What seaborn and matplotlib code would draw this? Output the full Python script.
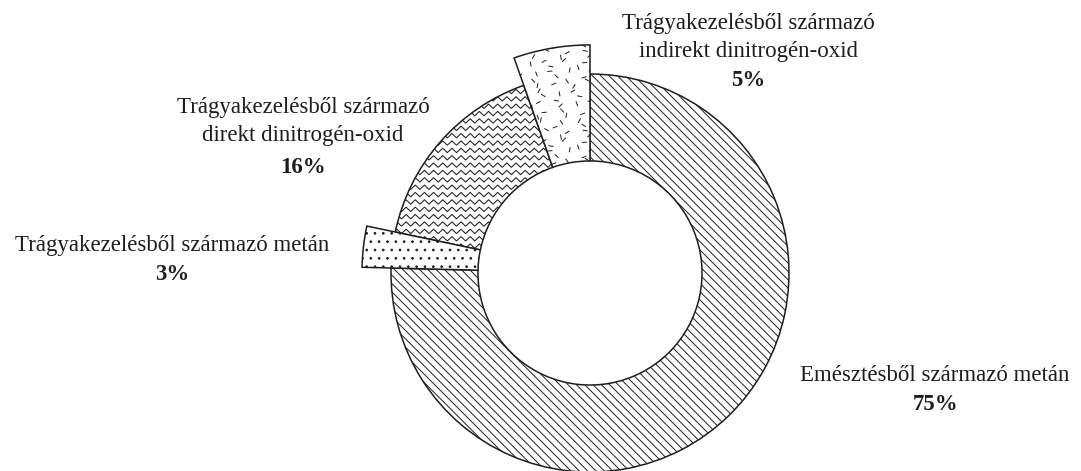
import numpy as np
import matplotlib
matplotlib.use('Agg')
import matplotlib.pyplot as plt
from matplotlib.collections import LineCollection
import seaborn as sns

# shares (percent)
labels = ['Trágyakezelésből származó\nindirekt dinitrogén-oxid',
          'Trágyakezelésből származó\ndirekt dinitrogén-oxid',
          'Trágyakezelésből származó metán',
          'Emésztésből származó metán']
shares = [5.4, 16.3, 2.9, 75.4]
pct_labels = [f'{round(v)}%' for v in shares]

# label anchor positions (data units, ring radius = 1)
label_pos = [(0.794, 1.185), (-1.442, 0.762), (-2.101, 0.138), (1.734, -0.516)]
pct_pos = [(0.794, 0.965), (-1.442, 0.53), (-2.101, -0.008), (1.734, -0.66)]

sns.set_theme(style='white')
plt.rcParams['font.family'] = ['Liberation Serif', 'DejaVu Serif']
plt.rcParams['hatch.linewidth'] = 0.7

ink = '#1e1e1e'
r_in = 0.563
r_big = 1.146

fig = plt.figure(figsize=(10.81, 4.71), dpi=100)
ax = fig.add_axes([0, 0, 1, 1])

wedges, _ = ax.pie(shares, startangle=90, counterclock=True, radius=1,
                   wedgeprops=dict(width=1 - r_in, edgecolor=ink, linewidth=1.1,
                                   facecolor='white'))

# the two small slices stick out of the ring
for i in (0, 2):
    wedges[i].set_radius(r_big)
    wedges[i].set_width(r_big - r_in)
    wedges[i].set_zorder(3)

# 75%: diagonal lines
wedges[3].set_hatch('\\\\\\\\')
# 3%: dots
wedges[2].set_hatch('..')

# 16%: zigzag texture clipped to the slice
segs = []
zx = np.arange(-1.2, 0.05, 0.023)
for y0 in np.arange(-0.05, 1.15, 0.037):
    zy = y0 + 0.011 * (-1) ** np.arange(len(zx))
    segs.append(np.column_stack([zx, zy]))
zz = LineCollection(segs, colors=ink, linewidths=0.75, zorder=2.5)
ax.add_collection(zz)
zz.set_clip_path(wedges[1])

# 5%: short scattered dashes clipped to the slice
angs = [80, 20, 125, 60, 150, 100, 30, 170, 45, 110, 5, 135]
offs = [0.0, 0.014, -0.012, 0.02, -0.017, 0.007, 0.016, -0.008]
dsegs = []
k = 0
for j, yy in enumerate(np.arange(0.5, 1.2, 0.05)):
    for xx in np.arange(-0.45, 0.05, 0.058):
        cx = xx + 0.029 * (j % 2) + offs[k % len(offs)]
        cy = yy + offs[(k + 3) % len(offs)]
        a = np.radians(angs[k % len(angs)])
        d = 0.013
        dsegs.append([(cx - d * np.cos(a), cy - d * np.sin(a)),
                      (cx + d * np.cos(a), cy + d * np.sin(a))])
        k += 1
dd = LineCollection(dsegs, colors=ink, linewidths=0.7, zorder=3.5)
ax.add_collection(dd)
dd.set_clip_path(wedges[0])

for lab, pct, (lx, ly), (px, py) in zip(labels, pct_labels, label_pos, pct_pos):
    ax.text(lx, ly, lab, ha='center', va='center', fontsize=16.5,
            color=ink, linespacing=1.45)
    ax.text(px, py, pct, ha='center', va='center', fontsize=16.5,
            fontweight='bold', color=ink)

ax.set_xlim(-590 / 199, (1081 - 590) / 199)
ax.set_ylim(-198 / 199, 273 / 199)
ax.set_aspect('equal')
ax.axis('off')

fig.savefig('out.png', dpi=100, facecolor='white')
